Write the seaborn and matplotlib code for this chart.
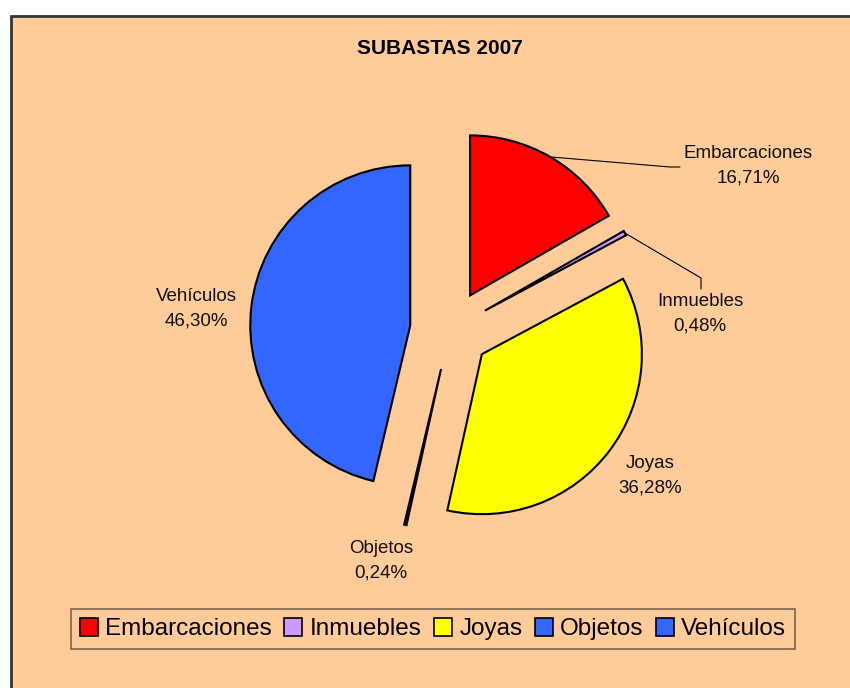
import numpy as np
import matplotlib
matplotlib.use('Agg')
import matplotlib.pyplot as plt
import matplotlib.patches as mpatches
import seaborn as sns

# Datos del gráfico
categorias = ['Embarcaciones', 'Inmuebles', 'Joyas', 'Objetos', 'Vehículos']
porcentajes = [16.71, 0.48, 36.28, 0.24, 46.30]
etiquetas = ['16,71%', '0,48%', '36,28%', '0,24%', '46,30%']
colores = ['#FF0000', '#CC99FF', '#FFFF00', '#3366FF', '#3366FF']

sns.set_theme(style='white')
plt.rcParams['font.family'] = ['Liberation Sans', 'DejaVu Sans']

W, H = 850, 688
fig = plt.figure(figsize=(8.5, 6.88), dpi=100)
fig.patch.set_facecolor('white')

# fondo del área del gráfico
fondo = mpatches.Rectangle((11 / W, -0.02), 1.05, (H - 16) / H + 0.02,
                           transform=fig.transFigure, facecolor='#FFCC99',
                           edgecolor='#333333', linewidth=2, zorder=-5)
fig.patches.append(fondo)

ax = fig.add_axes([0, 0, 1, 1])
ax.patch.set_alpha(0)
ax.set_zorder(1)

cx, cy, r = 450, H - 330, 160
# en matplotlib el explode va en unidades de datos (aquí píxeles)
wedges, _ = ax.pie(porcentajes, explode=[40] * 5, startangle=90,
                   counterclock=False, colors=colores, center=(cx, cy),
                   radius=r, wedgeprops=dict(edgecolor='black', linewidth=1.5))
ax.set_xlim(0, W)
ax.set_ylim(0, H)
ax.set_aspect('equal')
ax.axis('off')


def punto_arco(w):
    ang = np.deg2rad((w.theta1 + w.theta2) / 2)
    return w.center[0] + w.r * np.cos(ang), w.center[1] + w.r * np.sin(ang)


txt = dict(fontsize=13.5, color='#111111', ha='center', va='center', linespacing=1.6)

# Embarcaciones
x0, y0 = punto_arco(wedges[0])
ax.plot([x0, 670, 680], [y0, H - 167, H - 167], color='black', lw=0.8)
ax.text(748, H - 166, f'{categorias[0]}\n{etiquetas[0]}', **txt)

# Inmuebles
x0, y0 = punto_arco(wedges[1])
ax.plot([x0, 701, 701], [y0, H - 278, H - 289], color='black', lw=0.8)
ax.text(700, H - 314, f'{categorias[1]}\n{etiquetas[1]}', **txt)

# Joyas
ax.text(650, H - 476, f'{categorias[2]}\n{etiquetas[2]}', **txt)

# Objetos
ax.text(381, H - 561, f'{categorias[3]}\n{etiquetas[3]}', **txt)

# Vehículos
ax.text(196, H - 309, f'{categorias[4]}\n{etiquetas[4]}', **txt)

fig.text(440 / W, 1 - 48 / H, 'SUBASTAS 2007', ha='center', va='center',
         fontsize=15, fontweight='bold', color='black')

handles = [mpatches.Patch(facecolor=c, edgecolor='black', linewidth=1.2, label=l)
           for c, l in zip(colores, categorias)]
leg = fig.legend(handles=handles, ncol=5, loc='center',
                 bbox_to_anchor=(433 / W, 1 - 629 / H), fontsize=17.5,
                 frameon=True, fancybox=False, handlelength=0.75,
                 handleheight=0.75, handletextpad=0.3, columnspacing=0.5,
                 borderpad=0.35, borderaxespad=0)
leg.get_frame().set_facecolor('none')
leg.get_frame().set_edgecolor('#5a4a3a')
leg.get_frame().set_linewidth(1.2)
for t in leg.get_texts():
    t.set_color('black')

fig.savefig('out.png', dpi=100, facecolor=fig.get_facecolor())
